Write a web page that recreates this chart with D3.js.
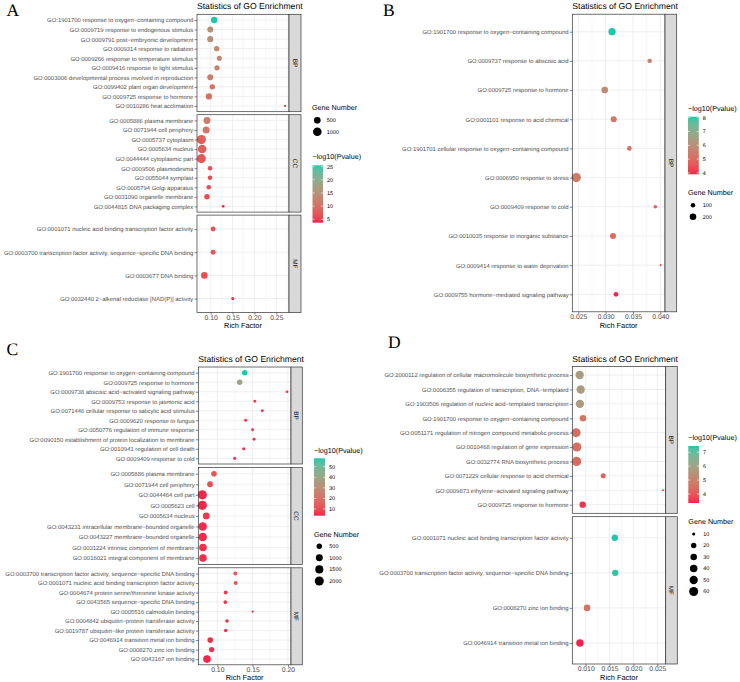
<!DOCTYPE html>
<html><head><meta charset="utf-8">
<script src="https://cdn.jsdelivr.net/npm/d3@7"></script>
<style>
body{margin:0;background:#fff}
svg{display:block;text-rendering:geometricPrecision}
text{font-family:"Liberation Sans",Arial,Helvetica,sans-serif;text-rendering:geometricPrecision}
</style>
</head><body>
<svg id="chart" width="740" height="682"></svg>
<script>
// ---------------- DATA ----------------
// Panel A
const A_BP_terms = ["GO:1901700 response to oxygen−containing compound","GO:0009719 response to endogenous stimulus","GO:0009791 post−embryonic development","GO:0009314 response to radiation","GO:0009266 response to temperature stimulus","GO:0009416 response to light stimulus","GO:0003006 developmental process involved in reproduction","GO:0099402 plant organ development","GO:0009725 response to hormone","GO:0010286 heat acclimation"];
const A_BP_rich  = [0.108,0.099,0.099,0.1137,0.1197,0.1144,0.099,0.1037,0.096,0.270];
const A_BP_genes = [480,380,390,260,220,240,380,280,400,20];
const A_BP_logp  = [25.5,15,14.5,13.5,13,12.5,12,10.5,10,4.5];
const A_CC_terms = ["GO:0005886 plasma membrane","GO:0071944 cell periphery","GO:0005737 cytoplasm","GO:0005634 nucleus","GO:0044444 cytoplasmic part","GO:0009506 plasmodesma","GO:0055044 symplast","GO:0005794 Golgi apparatus","GO:0031090 organelle membrane","GO:0044815 DNA packaging complex"];
const A_CC_rich  = [0.0915,0.0897,0.0787,0.0805,0.0787,0.0985,0.0985,0.0955,0.0915,0.1285];
const A_CC_genes = [560,600,1200,1000,1150,150,150,160,280,30];
const A_CC_logp  = [12,11,8,8,7.5,6,6,6.5,6.5,3.7];
const A_MF_terms = ["GO:0001071 nucleic acid binding transcription factor activity","GO:0003700 transcription factor activity, sequence−specific DNA binding","GO:0003677 DNA binding","GO:0032440 2−alkenal reductase [NAD(P)] activity"];
const A_MF_rich  = [0.1055,0.1055,0.0855,0.1505];
const A_MF_genes = [200,200,480,40];
const A_MF_logp  = [7,7,6.5,4];
const A_ticks = [0.10,0.15,0.20,0.25];
const A_sizeLegend = [500,1000];
const A_colorTicks = [5,10,15,20,25];

// Panel B
const B_BP_terms = ["GO:1901700 response to oxygen−containing compound","GO:0009737 response to abscisic acid","GO:0009725 response to hormone","GO:0001101 response to acid chemical","GO:1901701 cellular response to oxygen−containing compound","GO:0006950 response to stress","GO:0009409 response to cold","GO:0010035 response to inorganic substance","GO:0009414 response to water deprivation","GO:0009755 hormone−mediated signaling pathway"];
const B_BP_rich  = [0.03117,0.03806,0.02983,0.03148,0.03433,0.02463,0.03909,0.03135,0.04007,0.0319];
const B_BP_genes = [250,95,200,165,100,420,72,165,57,105];
const B_BP_logp  = [8.07,5.6,5.8,5.3,5.0,5.4,4.8,5.0,4.5,3.9];
const B_ticks = [0.025,0.030,0.035,0.040];
const B_sizeLegend = [100,200];
const B_colorTicks = [4,5,6,7,8];

// Panel C
const C_BP_terms = ["GO:1901700 response to oxygen−containing compound","GO:0009725 response to hormone","GO:0009738 abscisic acid−activated signaling pathway","GO:0009753 response to jasmonic acid","GO:0071446 cellular response to salicylic acid stimulus","GO:0009620 response to fungus","GO:0050776 regulation of immune response","GO:0090150 establishment of protein localization to membrane","GO:0010941 regulation of cell death","GO:0009409 response to cold"];
const C_BP_rich  = [0.1388,0.1317,0.1987,0.153,0.1637,0.1402,0.150,0.152,0.1374,0.1246];
const C_BP_genes = [540,520,70,80,80,100,85,85,100,100];
const C_BP_logp  = [57.9,40,7,6,6,6,5.5,5.5,5.5,6.5];
const C_CC_terms = ["GO:0005886 plasma membrane","GO:0071944 cell periphery","GO:0044464 cell part","GO:0005623 cell","GO:0005634 nucleus","GO:0043231 intracellular membrane−bounded organelle","GO:0043227 membrane−bounded organelle","GO:0031224 intrinsic component of membrane","GO:0016021 integral component of membrane"];
const C_CC_rich  = [0.0953,0.0897,0.0788,0.0788,0.0844,0.0793,0.0793,0.0797,0.0797];
const C_CC_genes = [550,600,2100,2090,900,1700,1720,1300,1280];
const C_CC_logp  = [12,11,4,4,6,4.5,4.5,5,5];
const C_MF_terms = ["GO:0003700 transcription factor activity, sequence−specific DNA binding","GO:0001071 nucleic acid binding transcription factor activity","GO:0004674 protein serine/threonine kinase activity","GO:0043565 sequence−specific DNA binding","GO:0005516 calmodulin binding","GO:0004842 ubiquitin−protein transferase activity","GO:0019787 ubiquitin−like protein transferase activity","GO:0046914 transition metal ion binding","GO:0008270 zinc ion binding","GO:0043167 ion binding"];
const C_MF_rich  = [0.1255,0.126,0.1119,0.1113,0.150,0.1137,0.1119,0.090,0.092,0.0854];
const C_MF_genes = [200,200,170,160,60,140,140,560,470,1300];
const C_MF_logp  = [12,12,6,6,4,5,5,5,5,4];
const C_ticks = [0.10,0.15,0.20];
const C_sizeLegend = [500,1000,1500,2000];
const C_colorTicks = [10,20,30,40,50];

// Panel D
const D_BP_terms = ["GO:2000112 regulation of cellular macromolecule biosynthetic process","GO:0006355 regulation of transcription, DNA−templated","GO:1903506 regulation of nucleic acid−templated transcription","GO:1901700 response to oxygen−containing compound","GO:0051171 regulation of nitrogen compound metabolic process","GO:0010468 regulation of gene expression","GO:0032774 RNA biosynthetic process","GO:0071229 cellular response to acid chemical","GO:0009873 ethylene−activated signaling pathway","GO:0009725 response to hormone"];
const D_BP_rich  = [0.00874,0.00895,0.0088,0.00944,0.0080,0.00816,0.0081,0.01368,0.02617,0.00937];
const D_BP_genes = [51,51,50,30,60,60,63,18,9,28];
const D_BP_logp  = [5.8,5.8,5.8,4.7,4.5,4.5,4.4,4.3,3.8,3.5];
const D_MF_terms = ["GO:0001071 nucleic acid binding transcription factor activity","GO:0003700 transcription factor activity, sequence−specific DNA binding","GO:0008270 zinc ion binding","GO:0046914 transition metal ion binding"];
const D_MF_rich  = [0.0161,0.0162,0.0103,0.0088];
const D_MF_genes = [28,28,30,40];
const D_MF_logp  = [7.45,7.4,4.6,3.35];
const D_ticks = [0.010,0.015,0.020,0.025];
const D_sizeLegend = [10,20,30,40,50,60];
const D_colorTicks = [4,5,6,7];

// ---------------- DRAWING ----------------
const svg = d3.select("#chart");
const COLOR_LOW = "#F5224B", COLOR_HIGH = "#1FC8A8";
const RMIN = 1.1, RMAX = 4.6;

function facet(name, terms, rich, genes, logp){
  return {name, rows: terms.map((t,i)=>({term:t, rich:rich[i], genes:genes[i], logp:logp[i]}))};
}

function drawPanel(cfg){
  const g = svg.append("g");
  const all = cfg.facets.flatMap(f=>f.rows);
  const x = d3.scaleLinear().domain(cfg.xDomain).range([cfg.px0, cfg.px1]);
  const color = d3.scaleLinear().domain(cfg.colorDomain).range([COLOR_LOW, COLOR_HIGH]).interpolate(d3.interpolateLab).clamp(true);
  const gExt = d3.extent(all, d=>d.genes);
  const t = d3.scaleLinear().domain(gExt).range([0,1]);
  const rs = d3.scaleSqrt().domain([0,1]).range([RMIN, RMAX]);
  const size = n => rs(Math.max(0, t(n)));

  g.append("text").attr("x", cfg.letter[0]).attr("y", cfg.letter[1]).text(cfg.letter[2])
    .style("font-family","'Liberation Serif','Times New Roman',serif").style("font-size","17.5px").attr("fill","#000");
  g.append("text").attr("x", cfg.px0).attr("y", cfg.titleY).text("Statistics of GO Enrichment")
    .style("font-size","8.6px").attr("fill","#000");

  const minor = [];
  const step = cfg.ticks[1]-cfg.ticks[0];
  for (let i=-1;i<cfg.ticks.length;i++){
    const v = cfg.ticks[0] + step*(i+0.5);
    if (v>cfg.xDomain[0] && v<cfg.xDomain[1]) minor.push(v);
  }

  cfg.facets.forEach((f, fi)=>{
    const [top,bottom] = cfg.facetY[fi];
    const y = d3.scalePoint().domain(f.rows.map(d=>d.term)).range([top,bottom]).padding(0.6);
    g.append("rect").attr("x",cfg.px0).attr("y",top).attr("width",cfg.px1-cfg.px0).attr("height",bottom-top).attr("fill","#fff");
    g.selectAll(null).data(minor).enter().append("line")
      .attr("x1",d=>x(d)).attr("x2",d=>x(d)).attr("y1",top).attr("y2",bottom)
      .attr("stroke","#EBEBEB").attr("stroke-width",0.4);
    g.selectAll(null).data(cfg.ticks).enter().append("line")
      .attr("x1",d=>x(d)).attr("x2",d=>x(d)).attr("y1",top).attr("y2",bottom)
      .attr("stroke","#EBEBEB").attr("stroke-width",0.8);
    g.selectAll(null).data(f.rows).enter().append("line")
      .attr("x1",cfg.px0).attr("x2",cfg.px1).attr("y1",d=>y(d.term)).attr("y2",d=>y(d.term))
      .attr("stroke","#EBEBEB").attr("stroke-width",0.8);
    g.selectAll(null).data(f.rows).enter().append("circle")
      .attr("cx",d=>x(d.rich)).attr("cy",d=>y(d.term)).attr("r",d=>size(d.genes))
      .attr("fill",d=>color(d.logp));
    g.append("rect").attr("x",cfg.px0).attr("y",top).attr("width",cfg.px1-cfg.px0).attr("height",bottom-top)
      .attr("fill","none").attr("stroke","#333").attr("stroke-width",0.7);
    g.append("rect").attr("x",cfg.px1).attr("y",top).attr("width",cfg.sx1-cfg.px1).attr("height",bottom-top)
      .attr("fill","#D9D9D9").attr("stroke","#333").attr("stroke-width",0.7);
    const sx = (cfg.px1+cfg.sx1)/2, sy=(top+bottom)/2;
    g.append("text").attr("transform",`translate(${sx},${sy}) rotate(90)`).attr("text-anchor","middle")
      .attr("dy","0.35em").style("font-size","6.4px").attr("fill","#1A1A1A").text(f.name);
    const ya = g.append("g").attr("transform",`translate(${cfg.px0},0)`)
      .call(d3.axisLeft(y).tickSize(2.5).tickPadding(1.2));
    ya.select(".domain").remove();
    ya.selectAll("line").attr("stroke","#333").attr("stroke-width",0.6);
    ya.selectAll("text").style("font-size","5.9px").attr("fill","#4D4D4D").style("font-family","'Liberation Sans',Arial,sans-serif");
  });

  const lastBottom = cfg.facetY[cfg.facetY.length-1][1];
  const xa = g.append("g").attr("transform",`translate(0,${lastBottom})`)
    .call(d3.axisBottom(x).tickValues(cfg.ticks).tickFormat(d3.format(cfg.fmt)).tickSize(2.2).tickPadding(0));
  xa.select(".domain").remove();
  xa.selectAll("line").attr("stroke","#333").attr("stroke-width",0.6);
  xa.selectAll("text").style("font-size","6.8px").attr("fill","#4D4D4D").style("font-family","'Liberation Sans',Arial,sans-serif");
  g.append("text").attr("x",(cfg.px0+cfg.px1)/2).attr("y",cfg.xTitleY).attr("text-anchor","middle")
    .style("font-size","7.4px").attr("fill","#000").text("Rich Factor");

  const cl = cfg.colorLegend;
  g.append("text").attr("x",cl.x).attr("y",cl.titleY).style("font-size","7.2px").attr("fill","#000").text("−log10(Pvalue)");
  const gid = "grad"+cfg.letter[2];
  const grad = svg.append("defs").append("linearGradient").attr("id",gid)
    .attr("x1",0).attr("y1",1).attr("x2",0).attr("y2",0);
  d3.range(0,21).forEach(i=>{
    const v = cfg.colorDomain[0] + (cfg.colorDomain[1]-cfg.colorDomain[0])*i/20;
    grad.append("stop").attr("offset",(i*5)+"%").attr("stop-color",color(v));
  });
  g.append("rect").attr("x",cl.x).attr("y",cl.top).attr("width",cl.w).attr("height",cl.bottom-cl.top).attr("fill",`url(#${gid})`);
  const cy = d3.scaleLinear().domain(cfg.colorDomain).range([cl.bottom, cl.top]);
  cfg.colorTicks.forEach(v=>{
    const yy = cy(v);
    g.append("line").attr("x1",cl.x).attr("x2",cl.x+cl.w*0.2).attr("y1",yy).attr("y2",yy).attr("stroke","#fff").attr("stroke-width",0.6);
    g.append("line").attr("x1",cl.x+cl.w*0.8).attr("x2",cl.x+cl.w).attr("y1",yy).attr("y2",yy).attr("stroke","#fff").attr("stroke-width",0.6);
    g.append("text").attr("x",cl.x+cl.w+4).attr("y",yy).attr("dy","0.35em").style("font-size","5.5px").attr("fill","#000").text(v);
  });

  const sl = cfg.sizeLegend;
  g.append("text").attr("x",sl.x).attr("y",sl.titleY).style("font-size","7.2px").attr("fill","#000").text("Gene Number");
  cfg.sizeValues.forEach((v,i)=>{
    const yy = sl.y0 + i*sl.dy;
    g.append("circle").attr("cx",sl.cx).attr("cy",yy).attr("r",size(v)).attr("fill","#000");
    g.append("text").attr("x",sl.lx).attr("y",yy).attr("dy","0.35em").style("font-size","5.5px").attr("fill","#000").text(v);
  });
}

drawPanel({
  letter:[6.5,16,"A"], titleY:9, px0:197, px1:289, sx1:301,
  xDomain:[0.0687,0.279], ticks:A_ticks, fmt:".2f", xTitleY:328.4,
  facetY:[[14.3,111.7],[114.7,212.1],[215.1,312.5]],
  facets:[facet("BP",A_BP_terms,A_BP_rich,A_BP_genes,A_BP_logp),facet("CC",A_CC_terms,A_CC_rich,A_CC_genes,A_CC_logp),facet("MF",A_MF_terms,A_MF_rich,A_MF_genes,A_MF_logp)],
  colorDomain:[3.7,25.5], colorTicks:A_colorTicks,
  colorLegend:{x:312.5,titleY:158.5,top:165.3,bottom:222.7,w:10.5},
  sizeValues:A_sizeLegend,
  sizeLegend:{x:312,titleY:109.5,cx:317.3,y0:120.3,dy:11.4,lx:326.7}
});
drawPanel({
  letter:[383,16,"B"], titleY:9, px0:572.3, px1:665, sx1:676.7,
  xDomain:[0.0239,0.04086], ticks:B_ticks, fmt:".3f", xTitleY:328.2,
  facetY:[[14.2,311.8]],
  facets:[facet("BP",B_BP_terms,B_BP_rich,B_BP_genes,B_BP_logp)],
  colorDomain:[3.9,8.07], colorTicks:B_colorTicks,
  colorLegend:{x:688,titleY:111,top:116.7,bottom:174.3,w:10.8},
  sizeValues:B_sizeLegend,
  sizeLegend:{x:688,titleY:194.5,cx:693,y0:205.3,dy:11.4,lx:702.7}
});
drawPanel({
  letter:[6.5,355,"C"], titleY:362, px0:198.3, px1:291, sx1:302.3,
  xDomain:[0.0731,0.2043], ticks:C_ticks, fmt:".2f", xTitleY:680.4,
  facetY:[[367,464],[467.4,564.4],[567.8,664.8]],
  facets:[facet("BP",C_BP_terms,C_BP_rich,C_BP_genes,C_BP_logp),facet("CC",C_CC_terms,C_CC_rich,C_CC_genes,C_CC_logp),facet("MF",C_MF_terms,C_MF_rich,C_MF_genes,C_MF_logp)],
  colorDomain:[3.7,57.9], colorTicks:C_colorTicks,
  colorLegend:{x:314,titleY:452.5,top:458.3,bottom:515.7,w:11},
  sizeValues:C_sizeLegend,
  sizeLegend:{x:314,titleY:536.5,cx:319.3,y0:546.3,dy:11.55,lx:329.3}
});
drawPanel({
  letter:[388,348,"D"], titleY:361.5, px0:572.3, px1:665.7, sx1:677.3,
  xDomain:[0.0072,0.02676], ticks:D_ticks, fmt:".3f", xTitleY:680.4,
  facetY:[[366.4,513.3],[516.7,664]],
  facets:[facet("BP",D_BP_terms,D_BP_rich,D_BP_genes,D_BP_logp),facet("MF",D_MF_terms,D_MF_rich,D_MF_genes,D_MF_logp)],
  colorDomain:[3.35,7.45], colorTicks:D_colorTicks,
  colorLegend:{x:688.3,titleY:440,top:446,bottom:503,w:10.7},
  sizeValues:D_sizeLegend,
  sizeLegend:{x:688.3,titleY:524,cx:693.7,y0:534,dy:11.5,lx:703.3}
});
</script>
</body></html>
